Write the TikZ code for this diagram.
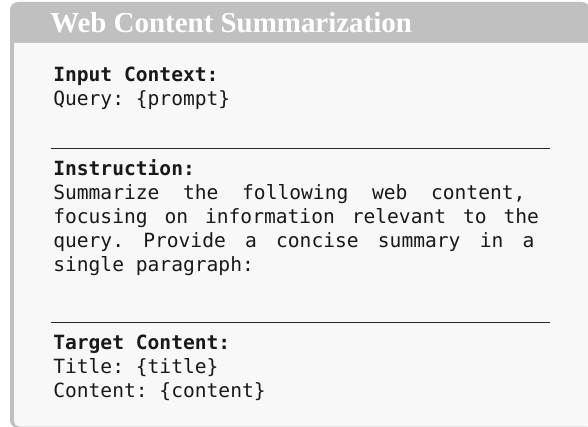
\documentclass[tikz,border=0pt]{standalone}
\usepackage{fontspec}
\setmonofont{DejaVu Sans Mono}
\newfontfamily\headfont{Liberation Serif}
\definecolor{framegray}{HTML}{C0C0C0}
\definecolor{bodygray}{HTML}{F8F8F8}
\tikzset{
  sect/.style={anchor=base west, inner sep=0pt, text width=372pt, text=black!90,
    font=\ttfamily\fontsize{14.7}{18}\selectfont,
    execute at begin node={\spaceskip=0.602em plus 1em\relax\frenchspacing\hyphenpenalty=10000\relax}},
  seprule/.style={line width=0.75pt, black!85}
}
\begin{document}
\begin{tikzpicture}[x=0.75pt, y=-0.75pt]
\useasboundingbox (0,0) rectangle (588,427);
\fill[framegray, rounded corners=6pt] (10,2) rectangle (590,428);
\fill[bodygray] (14,43) -- (589,43) -- (589,426.5) [rounded corners=4pt] -- (14,426.5) [sharp corners] -- cycle;
\node[anchor=base west, inner sep=0pt, text=white, font=\headfont\bfseries\fontsize{21.7}{26}\selectfont] (title) at (50,33) {Web Content Summarization};
\node[sect] (context) at (53,82) {\textbf{Input Context:}\\Query: \{prompt\}};
\coordinate (rule1l) at (51,149);
\coordinate (rule1r) at (550,149);
\draw[seprule] (rule1l) -- (rule1r);
\node[sect] (instruction) at (53,176) {\textbf{Instruction:}\\Summarize the following web content, focusing on information relevant to the query. Provide a concise summary in a single paragraph:};
\coordinate (rule2l) at (51,322);
\coordinate (rule2r) at (550,322);
\draw[seprule] (rule2l) -- (rule2r);
\node[sect] (target) at (53,349) {\textbf{Target Content:}\\Title: \{title\}\\Content: \{content\}};
\end{tikzpicture}
\end{document}
